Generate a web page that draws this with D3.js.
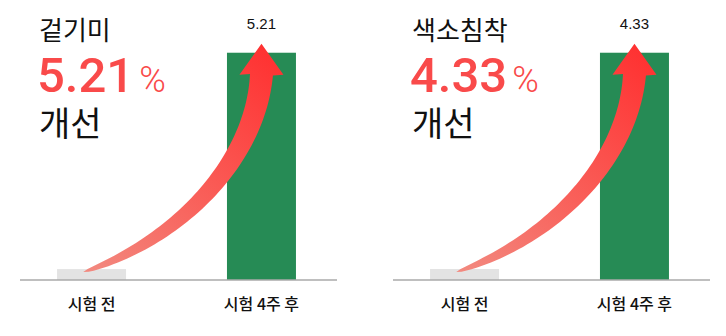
<!DOCTYPE html>
<html><head><meta charset="utf-8">
<script src="https://cdn.jsdelivr.net/npm/d3@7/dist/d3.min.js"></script>
<style>html,body{margin:0;padding:0;background:#fff;}svg{display:block;}</style>
</head><body>
<svg id="chart" width="726" height="336"></svg>
<script>
// ---- data ----
const panelTitles = ["겉기미", "색소침착"];
const categories = ["시험 전", "시험 4주 후"];
const beforeValues = [0.25, 0.21];
const afterValues = [5.21, 4.33];
const improvementLabels = ["5.21", "4.33"];
const improvementSuffix = "개선";

// ---- layout ----
const svg = d3.select("#chart");
const W = 726, H = 336;
const panelOffset = 373;
const KR = "'Noto Sans CJK KR', sans-serif";
const NUM = "Roboto, 'Noto Sans CJK KR', sans-serif";
const RED = "#f94a4a";
const GREEN = "#268b55";
const GREY = "#e3e3e3";

const defs = svg.append("defs");

panelTitles.forEach((title, i) => {
  const g = svg.append("g").attr("transform", `translate(${i * panelOffset},0)`);
  const x = d3.scaleBand().domain(categories).range([20, 333])
    .paddingInner(0.594).paddingOuter(0.218);
  const maxV = afterValues[i] * 1.1;
  const y = d3.scaleLinear().domain([0, maxV]).range([280, 30]);
  const vals = [beforeValues[i], afterValues[i]];

  // bars
  g.selectAll("rect.bar").data(categories).enter().append("rect")
    .attr("class", "bar")
    .attr("x", d => x(d))
    .attr("width", x.bandwidth())
    .attr("y", (d, k) => y(vals[k]))
    .attr("height", (d, k) => y(0) - y(vals[k]))
    .attr("fill", (d, k) => k === 0 ? GREY : GREEN);

  // axis baseline
  const axis = d3.axisBottom(x).tickSize(0).tickPadding(0);
  const ax = g.append("g").attr("transform", `translate(0,${y(0)})`).call(axis);
  ax.select(".domain").attr("d", "M0,0H317").attr("transform", "translate(20,0)")
    .attr("stroke", "#aaaaaa").attr("stroke-width", 1.5);
  ax.selectAll(".tick text")
    .attr("y", 30).attr("dy", null)
    .attr("font-family", KR).attr("font-size", 16).attr("font-weight", 500)
    .attr("fill", "#111");

  // value label
  g.append("text")
    .attr("x", x(categories[1]) + x.bandwidth() / 2)
    .attr("y", y(afterValues[i]) - 24)
    .attr("text-anchor", "middle")
    .attr("font-family", "'Liberation Sans', Arial, sans-serif")
    .attr("font-size", 15).attr("fill", "#111")
    .text(afterValues[i].toFixed(2));

  // curved arrow
  const P0 = [x(categories[0]) + x.bandwidth() * 0.38, y(beforeValues[i]) + 3];
  const P3 = [x(categories[1]) + x.bandwidth() / 2, y(afterValues[i]) + 22];
  const dx = P3[0] - P0[0], dy = P0[1] - P3[1];
  const P1 = [P0[0] + 0.545 * dx, P0[1] - 0.163 * dy];
  const P2 = [P3[0] - 6, P3[1] + 0.43 * dy];
  const bez = t => {
    const u = 1 - t;
    return [
      u*u*u*P0[0] + 3*u*u*t*P1[0] + 3*u*t*t*P2[0] + t*t*t*P3[0],
      u*u*u*P0[1] + 3*u*u*t*P1[1] + 3*u*t*t*P2[1] + t*t*t*P3[1]
    ];
  };
  const der = t => {
    const u = 1 - t;
    return [
      3*u*u*(P1[0]-P0[0]) + 6*u*t*(P2[0]-P1[0]) + 3*t*t*(P3[0]-P2[0]),
      3*u*u*(P1[1]-P0[1]) + 6*u*t*(P2[1]-P1[1]) + 3*t*t*(P3[1]-P2[1])
    ];
  };
  const N = 60, sideA = [], sideB = [];
  for (let s = 0; s <= N; s++) {
    const t = s / N;
    const p = bez(t), d = der(t);
    const len = Math.hypot(d[0], d[1]) || 1;
    const nx = -d[1] / len, ny = d[0] / len;
    const w = 23 * Math.sqrt(t) / 2;
    sideA.push([p[0] - nx * w, p[1] - ny * w]);
    sideB.push([p[0] + nx * w, p[1] + ny * w]);
  }
  const headHalf = 22, headLen = 31;
  const pts = sideA.concat([
    [P3[0] - headHalf, P3[1]],
    [P3[0], P3[1] - headLen],
    [P3[0] + headHalf, P3[1]]
  ]).concat(sideB.reverse());

  const gid = "arrowGrad" + i;
  const grad = defs.append("linearGradient").attr("id", gid)
    .attr("gradientUnits", "userSpaceOnUse")
    .attr("x1", P0[0]).attr("y1", P0[1])
    .attr("x2", P3[0] + 20).attr("y2", P3[1] - 20);
  grad.append("stop").attr("offset", 0).attr("stop-color", "#f28a80");
  grad.append("stop").attr("offset", 0.45).attr("stop-color", "#f9605a");
  grad.append("stop").attr("offset", 1).attr("stop-color", "#ff3030");

  g.append("path")
    .attr("d", d3.line()(pts) + "Z")
    .attr("fill", `url(#${gid})`);

  // headline text
  const tx = 39;
  g.append("text").attr("x", tx).attr("y", 40)
    .attr("font-family", KR).attr("font-size", 26).attr("fill", "#111")
    .text(title);
  const big = g.append("text").attr("x", tx - 2).attr("y", 92)
    .attr("font-family", NUM).attr("fill", RED);
  big.append("tspan").attr("font-size", 49).attr("font-weight", 500).text(improvementLabels[i]);
  big.append("tspan").attr("dx", 5).attr("font-size", 36).attr("font-weight", 300).text("%");
  g.append("text").attr("x", tx).attr("y", 136)
    .attr("font-family", KR).attr("font-size", 34).attr("fill", "#111")
    .text(improvementSuffix);
});
</script>
</body></html>
